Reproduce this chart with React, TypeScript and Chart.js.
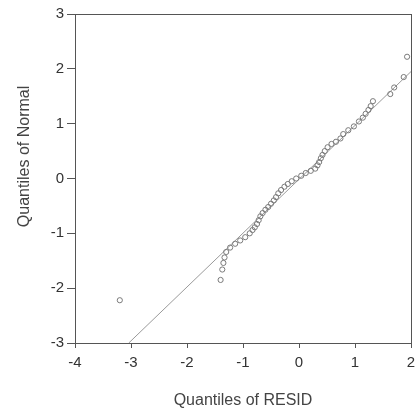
import { useEffect, useRef } from "react";
import { Chart, registerables } from "chart.js";

Chart.register(...registerables);

// Quantiles of RESID (x) vs Quantiles of Normal (y)
const residQuantiles = [
  -3.2, -1.4, -1.37, -1.35, -1.33, -1.3, -1.23, -1.14, -1.05, -0.96,
  -0.88, -0.83, -0.79, -0.75, -0.72, -0.69, -0.65, -0.6, -0.55, -0.5,
  -0.45, -0.41, -0.37, -0.32, -0.26, -0.2, -0.13, -0.05, 0.04, 0.12,
  0.21, 0.29, 0.33, 0.36, 0.39, 0.42, 0.46, 0.51, 0.58, 0.66,
  0.74, 0.79, 0.88, 0.98, 1.07, 1.14, 1.19, 1.24, 1.28, 1.32,
  1.63, 1.7, 1.87, 1.93,
];
const normalQuantiles = [
  -2.22, -1.85, -1.66, -1.54, -1.44, -1.34, -1.26, -1.19, -1.13, -1.07,
  -1.0, -0.94, -0.89, -0.83, -0.76, -0.69, -0.63, -0.57, -0.52, -0.46,
  -0.4, -0.34, -0.27, -0.21, -0.15, -0.1, -0.05, 0.0, 0.05, 0.1,
  0.14, 0.18, 0.24, 0.3, 0.37, 0.43, 0.5, 0.57, 0.63, 0.67,
  0.73, 0.81, 0.88, 0.95, 1.04, 1.11, 1.18, 1.25, 1.32, 1.41,
  1.54, 1.66, 1.85, 2.22,
];
// Reference line end points
const refLineX = [-3.04, 2];
const refLineY = [-3, 1.95];

const xMin = -4;
const xMax = 2;
const yMin = -3;
const yMax = 3;

const FONT = "'Liberation Sans', Arial, sans-serif";

export default function App() {
  const ref = useRef<HTMLCanvasElement | null>(null);

  useEffect(() => {
    const canvas = ref.current;
    if (!canvas) return;

    const boxPlugin = {
      id: "boxPlugin",
      afterDraw(chart: any) {
        const { ctx, chartArea } = chart;
        ctx.save();
        ctx.strokeStyle = "#555";
        ctx.lineWidth = 1;
        ctx.strokeRect(
          Math.round(chartArea.left) + 0.5,
          Math.round(chartArea.top) + 0.5,
          Math.round(chartArea.right - chartArea.left),
          Math.round(chartArea.bottom - chartArea.top)
        );
        // y-axis title
        ctx.fillStyle = "#444";
        ctx.font = `16px ${FONT}`;
        ctx.textAlign = "center";
        ctx.textBaseline = "middle";
        ctx.translate(25, chartArea.top + (chartArea.bottom - chartArea.top) * 0.433);
        ctx.rotate(-Math.PI / 2);
        ctx.fillText("Quantiles of Normal", 0, 0);
        ctx.restore();
      },
    };

    const chart = new Chart(canvas, {
      type: "scatter",
      data: {
        datasets: [
          {
            label: "QQ",
            data: residQuantiles.map((x, i) => ({ x, y: normalQuantiles[i] })),
            pointStyle: "circle",
            pointRadius: 2.6,
            pointBorderWidth: 1,
            borderColor: "#7a7a7a",
            backgroundColor: "rgba(0,0,0,0)",
          },
          {
            label: "line",
            data: refLineX.map((x, i) => ({ x, y: refLineY[i] })),
            showLine: true,
            pointRadius: 0,
            borderColor: "#9a9a9a",
            borderWidth: 1,
          } as any,
        ],
      },
      options: {
        animation: false,
        responsive: false,
        layout: { padding: { top: 14, right: 3, left: 0, bottom: 0 } },
        plugins: {
          legend: { display: false },
          tooltip: { enabled: false },
        },
        scales: {
          x: {
            type: "linear",
            min: xMin,
            max: xMax,
            ticks: {
              stepSize: 1,
              color: "#333",
              font: { family: FONT, size: 15 },
              padding: 6,
              maxRotation: 0,
            },
            grid: {
              drawOnChartArea: false,
              drawTicks: true,
              tickLength: 5,
              color: "#555",
            },
            border: { display: false },
            title: {
              display: true,
              text: "Quantiles of RESID",
              color: "#444",
              font: { family: FONT, size: 16 },
              padding: { top: 0, bottom: 0 },
            },
            afterFit(scale: any) {
              scale.height = 67;
              scale.paddingLeft = 0;
              scale.paddingRight = 0;
            },
          },
          y: {
            type: "linear",
            min: yMin,
            max: yMax,
            ticks: {
              stepSize: 1,
              color: "#333",
              font: { family: FONT, size: 15 },
              padding: 3,
            },
            grid: {
              drawOnChartArea: false,
              drawTicks: true,
              tickLength: 8,
              color: "#555",
            },
            border: { display: false },
            afterFit(scale: any) {
              scale.width = 75;
              scale.paddingTop = 0;
              scale.paddingBottom = 0;
            },
          },
        },
      },
      plugins: [boxPlugin],
    } as any);

    return () => chart.destroy();
  }, []);

  return (
    <div style={{ position: "absolute", left: 0, top: 0, width: 416, height: 410, background: "#fff" }}>
      <canvas ref={ref} width={416} height={410} style={{ display: "block", width: 416, height: 410 }} />
    </div>
  );
}
